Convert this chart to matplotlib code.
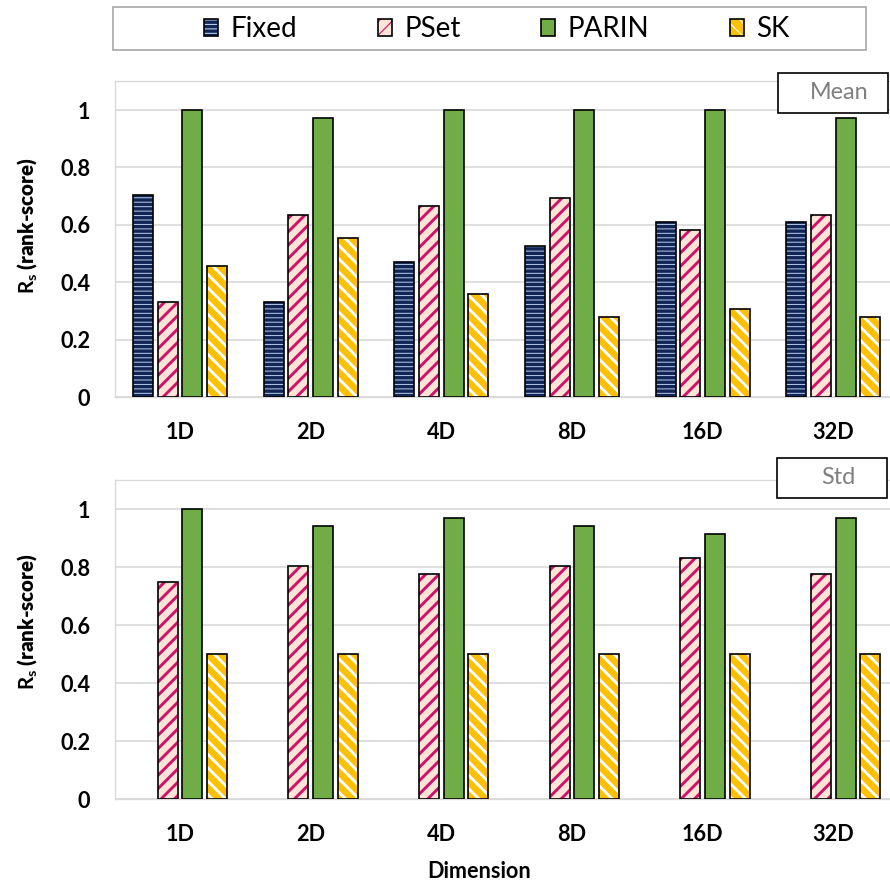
import numpy as np
import matplotlib
matplotlib.use("Agg")
import matplotlib.pyplot as plt
from matplotlib.patches import Rectangle
from matplotlib.legend_handler import HandlerTuple

DIMS = ["1D", "2D", "4D", "8D", "16D", "32D"]
SERIES = ["Fixed", "PSet", "PARIN", "SK"]

MEAN_FIXED = [0.704, 0.333, 0.472, 0.528, 0.611, 0.611]
MEAN_PSET = [0.333, 0.634, 0.667, 0.694, 0.583, 0.634]
MEAN_PARIN = [1.0, 0.972, 1.0, 1.0, 1.0, 0.972]
MEAN_SK = [0.458, 0.556, 0.361, 0.278, 0.306, 0.278]

STD_FIXED = [np.nan, np.nan, np.nan, np.nan, np.nan, np.nan]
STD_PSET = [0.75, 0.806, 0.778, 0.806, 0.833, 0.778]
STD_PARIN = [1.0, 0.944, 0.972, 0.944, 0.917, 0.972]
STD_SK = [0.5, 0.5, 0.5, 0.5, 0.5, 0.5]

# face, hatch colour, hatch, hatch linewidth
STYLES = {
    "Fixed": ("#0F2657", "#B9C8E6", "---", 0.9),
    "PSet": ("#FCE4D6", "#D0106A", "//", 2.6),
    "PARIN": ("#70AD47", "#70AD47", "", 1.0),
    "SK": ("#FFC000", "#FFFFFF", "\\\\", 2.6),
}

DPI = 80
W, H = 890, 884
FONT = "Lato"
GRID = "#D9D9D9"

plt.rcParams["font.family"] = FONT
plt.rcParams["mathtext.fontset"] = "custom"
plt.rcParams["mathtext.rm"] = "Lato:bold"
plt.rcParams["mathtext.it"] = "Lato:bold"
plt.rcParams["mathtext.bf"] = "Lato:bold"

fig = plt.figure(figsize=(W / DPI, H / DPI), dpi=DPI)


def px_rect(left, top, width, height):
    return [left / W, 1 - (top + height) / H, width / W, height / H]


def draw_panel(ax, values, tag, tag_box, label_y):
    x = np.arange(len(DIMS))
    step, width = 0.189, 0.153
    handles = []
    for i, name in enumerate(SERIES):
        face, hcol, hatch, hlw = STYLES[name]
        pos = x + (i - 1.5) * step
        with plt.rc_context({"hatch.linewidth": hlw}):
            fill = ax.bar(pos, values[i], width, color=face, edgecolor=hcol,
                          hatch=hatch, linewidth=0, zorder=2)
        outline = ax.bar(pos, values[i], width, fill=False, edgecolor="black",
                         linewidth=1.5, zorder=3)
        handles.append((fill.patches[0], outline.patches[0]))
    ax.set_xlim(-0.5, len(DIMS) - 0.5)
    ax.set_ylim(0, 1.1)
    ax.set_yticks([0, 0.2, 0.4, 0.6, 0.8, 1.0], ["0", "0.2", "0.4", "0.6", "0.8", "1"])
    ax.set_xticks(x, DIMS)
    ax.tick_params(axis="both", length=0, labelsize=19.5)
    ax.tick_params(axis="x", pad=22)
    ax.tick_params(axis="y", pad=22)
    for lab in ax.get_xticklabels() + ax.get_yticklabels():
        lab.set_fontweight("bold")
    ax.grid(axis="y", color=GRID, linewidth=1.5, zorder=0)
    ax.set_axisbelow(True)
    for sp in ax.spines.values():
        sp.set_color(GRID)
        sp.set_linewidth(1.2)
    ax.set_ylabel(r"$R_s$ (rank-score)", fontsize=18.5, fontweight="heavy")
    ax.yaxis.set_label_coords(-0.097, label_y)

    bl, bt, bw, bh = tag_box
    fig.add_artist(Rectangle((bl / W, 1 - (bt + bh) / H), bw / W, bh / H,
                             transform=fig.transFigure, facecolor="white",
                             edgecolor="black", linewidth=1.5, zorder=5))
    fig.text((bl + bw / 2 + 6) / W, 1 - (bt + bh / 2) / H, tag, color="#7F7F7F",
             fontsize=21, ha="center", va="center", zorder=6)
    return handles


ax_top = fig.add_axes(px_rect(114.6, 81.3, 784, 316))
ax_bot = fig.add_axes(px_rect(114.6, 480.5, 784, 318.8))

handles = draw_panel(ax_top, [MEAN_FIXED, MEAN_PSET, MEAN_PARIN, MEAN_SK],
                     "Mean", (778, 72.5, 110, 40), 0.543)
draw_panel(ax_bot, [STD_FIXED, STD_PSET, STD_PARIN, STD_SK],
           "Std", (777, 457.5, 110, 40), 0.556)

fig.text(479.5 / W, 1 - 878 / H, "Dimension", fontsize=19.5, fontweight="bold",
         ha="center", va="baseline")

# legend frame and entries
fig.add_artist(Rectangle((113 / W, 1 - 50 / H), 753 / W, 42.7 / H,
                         transform=fig.transFigure, facecolor="white",
                         edgecolor="#A6A6A6", linewidth=1.5))
fig.legend(handles, SERIES, loc="center", bbox_to_anchor=(497 / W, 1 - 29 / H),
           ncol=4, frameon=False, fontsize=25, handlelength=0.5,
           handleheight=0.58, handletextpad=0.45, columnspacing=2.9,
           handler_map={tuple: HandlerTuple(ndivide=1, pad=0)})

fig.savefig("out.png", dpi=DPI)
